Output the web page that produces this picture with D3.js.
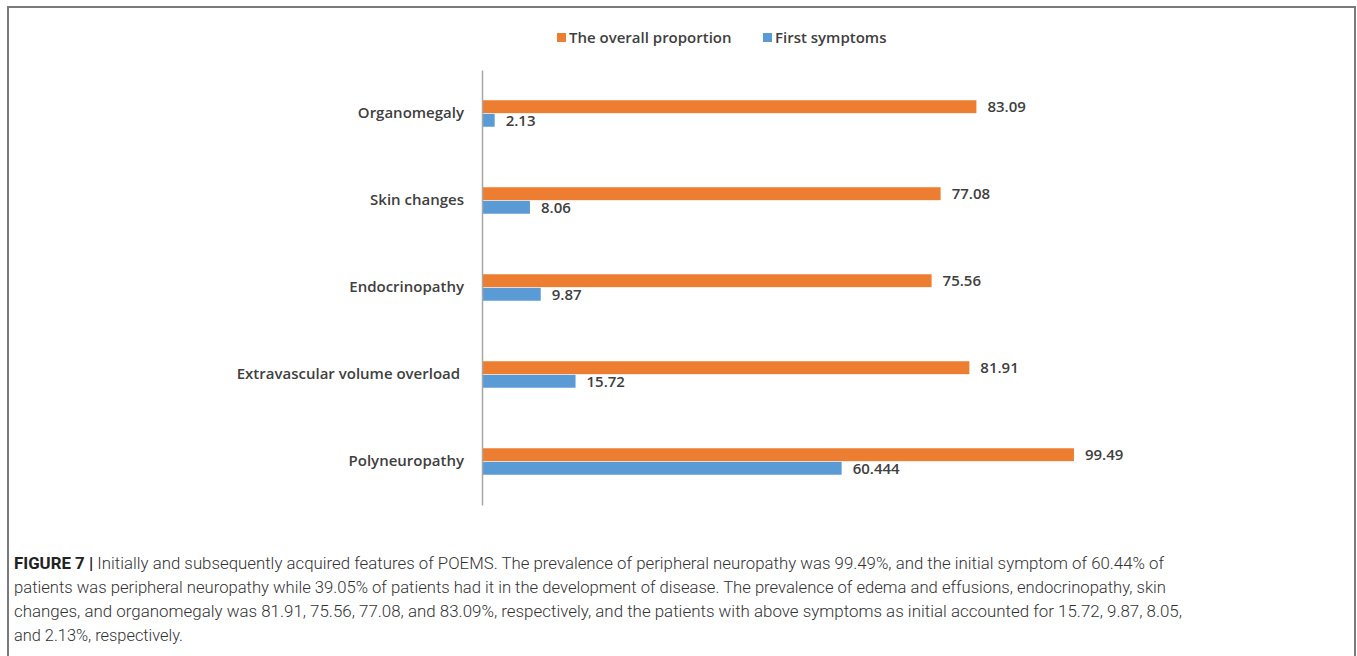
<!DOCTYPE html>
<html>
<head>
<meta charset="utf-8">
<script src="https://cdn.jsdelivr.net/npm/d3@7"></script>
<style>
  html, body { margin: 0; padding: 0; background: #fff; }
  svg { display: block; }
</style>
</head>
<body>
<svg id="fig" width="1357" height="656"></svg>
<script>
// Features of POEMS: overall prevalence vs. presence as first symptom (%)
const categories = ["Organomegaly", "Skin changes", "Endocrinopathy", "Extravascular volume overload ", "Polyneuropathy"];
const overallProportion = [83.09, 77.08, 75.56, 81.91, 99.49];
const firstSymptoms = [2.13, 8.06, 9.87, 15.72, 60.444];
const seriesNames = ["The overall proportion", "First symptoms"];
const seriesColors = ["#ED7D31", "#5B9BD5"];
const captionLines = [
  ["FIGURE 7 | ", "Initially and subsequently acquired features of POEMS. The prevalence of peripheral neuropathy was 99.49%, and the initial symptom of 60.44% of"],
  ["", "patients was peripheral neuropathy while 39.05% of patients had it in the development of disease. The prevalence of edema and effusions, endocrinopathy, skin"],
  ["", "changes, and organomegaly was 81.91, 75.56, 77.08, and 83.09%, respectively, and the patients with above symptoms as initial accounted for 15.72, 9.87, 8.05,"],
  ["", "and 2.13%, respectively."]
];
const captionWidths = [1150, 1152, 1168, 169];

const svg = d3.select("#fig");
const chartFont = "'Open Sans', 'DejaVu Sans', sans-serif";
const textColor = "#404040";
const chartFontSize = 15;

// Figure frame (left, top, right edges)
svg.append("path")
  .attr("d", "M8,656 V7 H1355 V656")
  .attr("fill", "none")
  .attr("stroke", "#7a7a7a")
  .attr("stroke-width", 2);

// Scales
const x = d3.scaleLinear().domain([0, 100]).range([482, 1077]);
const y0 = d3.scaleBand().domain(categories).range([70, 505]).paddingInner(0.68).paddingOuter(0.34);
const y1 = d3.scaleBand().domain(seriesNames).range([0, y0.bandwidth()]).padding(0.05);

const rows = categories.map((c, i) => ({
  cat: c,
  vals: [
    { s: seriesNames[0], v: overallProportion[i], color: seriesColors[0] },
    { s: seriesNames[1], v: firstSymptoms[i], color: seriesColors[1] }
  ]
}));

const g = svg.append("g");
const groups = g.selectAll("g.cat").data(rows).join("g")
  .attr("class", "cat")
  .attr("transform", d => `translate(0,${y0(d.cat)})`);

groups.selectAll("rect").data(d => d.vals).join("rect")
  .attr("x", x(0))
  .attr("y", d => y1(d.s))
  .attr("width", d => x(d.v) - x(0))
  .attr("height", y1.bandwidth())
  .attr("fill", d => d.color);

groups.selectAll("text.val").data(d => d.vals).join("text")
  .attr("class", "val")
  .attr("x", d => x(d.v) + 11)
  .attr("y", d => y1(d.s) + y1.bandwidth() / 2)
  .attr("dy", "0.35em")
  .attr("font-family", chartFont)
  .attr("font-size", chartFontSize)
  .attr("font-weight", 600)
  .attr("fill", textColor)
  .text(d => String(d.v));

// Category axis
const yAxis = d3.axisLeft(y0).tickSize(0).tickPadding(18);
const axisG = svg.append("g")
  .attr("transform", `translate(${x(0)},0)`)
  .call(yAxis);
axisG.select(".domain").attr("stroke", "#a6a6a6").attr("stroke-width", 1.5);
axisG.selectAll("text")
  .attr("font-family", chartFont)
  .attr("font-size", chartFontSize)
  .attr("font-weight", 600)
  .attr("fill", textColor)
  .style("white-space", "pre");

// Legend
const legendX = [557, 763];
const legend = svg.append("g");
seriesNames.forEach((name, i) => {
  legend.append("rect")
    .attr("x", legendX[i]).attr("y", 33)
    .attr("width", 9).attr("height", 9)
    .attr("fill", seriesColors[i]);
  legend.append("text")
    .attr("x", legendX[i] + 12).attr("y", 37.5)
    .attr("dy", "0.35em")
    .attr("font-family", chartFont)
    .attr("font-size", chartFontSize)
    .attr("font-weight", 600)
    .attr("fill", textColor)
    .text(name);
});

// Caption
const cap = svg.append("g");
captionLines.forEach((line, i) => {
  const t = cap.append("text")
    .attr("x", 14)
    .attr("y", 569 + i * 24)
    .attr("font-family", "Roboto, 'Liberation Sans', sans-serif")
    .attr("font-weight", 300)
    .attr("font-size", 16.5)
    .attr("fill", "#333")
    .attr("textLength", captionWidths[i])
    .attr("lengthAdjust", "spacingAndGlyphs");
  if (line[0]) t.append("tspan").attr("font-weight", "bold").attr("fill", "#222").text(line[0]);
  t.append("tspan").text(line[1]);
});
</script>
</body>
</html>
